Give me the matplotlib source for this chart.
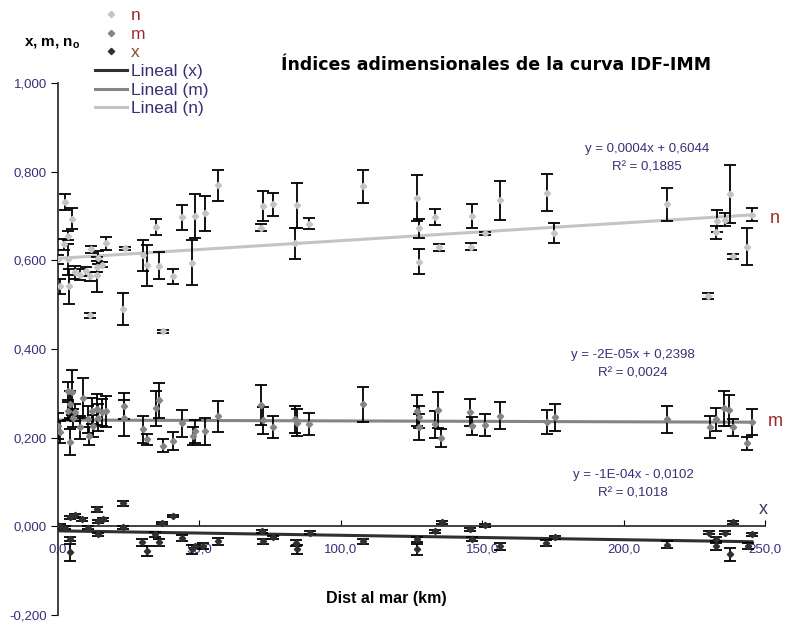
import matplotlib
matplotlib.use("Agg")
import matplotlib.pyplot as plt
from matplotlib.lines import Line2D
import numpy as np

plt.rcParams["font.family"] = ["Liberation Sans", "DejaVu Sans"]

# ---- data (km, value, half error bar) ----
n_km = [2.5, 5.0, 3.6, 2.1, 3.6, 0.0, 0.7, 3.9, 6.0, 7.8, 10.0, 11.3, 11.6, 13.7, 13.7,
        14.2, 17.0, 11.3, 15.5, 23.7, 23.0, 30.0, 31.5, 34.7, 35.8, 37.1, 40.8, 43.8,
        47.5, 48.4, 52.0, 56.5, 71.8, 72.5, 76.0, 84.5, 83.8, 88.8, 108.0, 127.0, 127.7,
        127.7, 133.3, 134.7, 146.4, 146.0, 151.0, 156.3, 172.9, 175.4, 215.3, 233.0,
        232.7, 230.0, 237.6, 235.9, 238.7, 243.6, 245.4]
n_val = [0.731, 0.694, 0.656, 0.636, 0.602, 0.602, 0.541, 0.541, 0.573, 0.568, 0.575, 0.564,
         0.625, 0.586, 0.568, 0.606, 0.638, 0.476, 0.590, 0.627, 0.491, 0.611, 0.589, 0.676,
         0.588, 0.440, 0.564, 0.697, 0.595, 0.700, 0.706, 0.769, 0.674, 0.722, 0.726, 0.724,
         0.638, 0.683, 0.767, 0.740, 0.672, 0.597, 0.697, 0.629, 0.699, 0.631, 0.661, 0.735,
         0.753, 0.661, 0.726, 0.688, 0.663, 0.519, 0.749, 0.692, 0.609, 0.631, 0.703]
n_err = [0.018, 0.024, 0.010, 0.012, 0.035, 0.010, 0.017, 0.040, 0.015, 0.012, 0.010, 0.010,
         0.008, 0.012, 0.040, 0.015, 0.015, 0.005, 0.006, 0.003, 0.036, 0.034, 0.046, 0.018,
         0.030, 0.003, 0.017, 0.028, 0.050, 0.050, 0.040, 0.035, 0.007, 0.034, 0.026, 0.050,
         0.036, 0.013, 0.037, 0.052, 0.022, 0.028, 0.018, 0.008, 0.027, 0.007, 0.004, 0.044,
         0.041, 0.023, 0.038, 0.025, 0.015, 0.007, 0.065, 0.015, 0.005, 0.041, 0.015]

m_km = [0.0, 0.7, 3.6, 4.2, 3.6, 5.0, 4.2, 5.3, 6.0, 7.8, 8.8, 10.6, 11.0, 12.0, 12.4, 13.7,
        14.2, 15.5, 17.0, 23.3, 23.3, 30.0, 31.5, 34.7, 35.8, 37.1, 40.8, 43.8, 47.6, 48.4,
        52.0, 56.5, 71.8, 72.5, 76.0, 83.8, 84.5, 88.8, 108.0, 127.0, 127.7, 127.7, 133.3,
        134.3, 135.4, 145.7, 146.4, 151.0, 156.3, 172.9, 175.7, 215.3, 230.5, 232.7, 235.5,
        237.3, 238.7, 243.6, 245.4]
m_val = [0.226, 0.212, 0.305, 0.275, 0.260, 0.302, 0.190, 0.245, 0.257, 0.223, 0.289, 0.241,
         0.203, 0.260, 0.226, 0.264, 0.245, 0.257, 0.260, 0.271, 0.244, 0.219, 0.196, 0.266,
         0.284, 0.182, 0.192, 0.232, 0.203, 0.214, 0.214, 0.248, 0.273, 0.239, 0.225, 0.241,
         0.234, 0.230, 0.275, 0.261, 0.246, 0.224, 0.230, 0.262, 0.199, 0.257, 0.226, 0.228,
         0.250, 0.235, 0.246, 0.241, 0.224, 0.241, 0.266, 0.262, 0.223, 0.187, 0.235]
m_err = [0.030, 0.025, 0.020, 0.030, 0.020, 0.050, 0.030, 0.020, 0.020, 0.025, 0.045, 0.030,
         0.020, 0.030, 0.025, 0.035, 0.030, 0.030, 0.035, 0.030, 0.040, 0.030, 0.012, 0.040,
         0.040, 0.015, 0.020, 0.030, 0.020, 0.025, 0.030, 0.035, 0.045, 0.030, 0.025, 0.030,
         0.030, 0.025, 0.040, 0.035, 0.025, 0.030, 0.030, 0.040, 0.020, 0.030, 0.020, 0.025,
         0.030, 0.027, 0.030, 0.030, 0.025, 0.025, 0.040, 0.035, 0.020, 0.015, 0.030]

x_km = [23.0, 13.8, 6.0, 4.2, 8.5, 15.9, 14.1, 40.7, 36.8, 0.7, 2.5, 10.6, 23.0, 14.1, 34.3,
        4.2, 43.9, 56.5, 29.7, 35.7, 31.5, 47.4, 48.4, 51.3, 4.2, 72.1, 72.5, 76.0, 84.2,
        84.5, 89.1, 108.0, 127.0, 127.0, 133.3, 135.7, 145.7, 146.4, 151.0, 156.3, 172.6,
        175.7, 215.3, 230.2, 232.7, 232.7, 235.9, 238.7, 237.6, 244.0, 245.4]
x_val = [0.052, 0.038, 0.025, 0.020, 0.016, 0.016, 0.011, 0.023, 0.007, 0.000, -0.003, -0.003,
         -0.002, -0.018, -0.018, -0.029, -0.027, -0.034, -0.036, -0.036, -0.056, -0.052,
         -0.045, -0.045, -0.059, -0.011, -0.034, -0.025, -0.038, -0.052, -0.014, -0.034,
         -0.029, -0.052, -0.011, 0.009, -0.007, -0.029, 0.002, -0.045, -0.038, -0.025,
         -0.041, -0.014, -0.029, -0.045, -0.014, 0.009, -0.063, -0.045, -0.018]
x_err = [0.006, 0.006, 0.003, 0.003, 0.003, 0.003, 0.003, 0.002, 0.002, 0.005, 0.004, 0.004,
         0.003, 0.004, 0.005, 0.005, 0.007, 0.007, 0.008, 0.008, 0.012, 0.010, 0.004, 0.007,
         0.020, 0.003, 0.006, 0.003, 0.007, 0.010, 0.003, 0.006, 0.006, 0.012, 0.003, 0.004,
         0.003, 0.004, 0.004, 0.008, 0.007, 0.003, 0.007, 0.003, 0.004, 0.008, 0.003, 0.003,
         0.015, 0.007, 0.004]

# trendlines y = a*x + b as printed on the chart
trend_coef = {"x": (-1e-4, -0.0102), "m": (-2e-5, 0.2398), "n": (0.0004, 0.6044)}
trend_text = {"n": ("y = 0,0004x + 0,6044", "R² = 0,1885"),
              "m": ("y = -2E-05x + 0,2398", "R² = 0,0024"),
              "x": ("y = -1E-04x - 0,0102", "R² = 0,1018")}

x_ticks = [0, 50, 100, 150, 200, 250]
x_ticklabels = ["0,0", "50,0", "100,0", "150,0", "200,0", "250,0"]
y_ticks = [-0.2, 0.0, 0.2, 0.4, 0.6, 0.8, 1.0]
y_ticklabels = ["-0,200", "0,000", "0,200", "0,400", "0,600", "0,800", "1,000"]

COLORS = {"n": "#c4c4c4", "m": "#858585", "x": "#303030"}
TXT = "#3a2e78"

fig = plt.figure(figsize=(7.94, 6.22), dpi=100)
ax = fig.add_axes([58 / 794, 7 / 622, 707 / 794, 532 / 622])

for key, xs, ys, es in [("n", n_km, n_val, n_err), ("m", m_km, m_val, m_err),
                        ("x", x_km, x_val, x_err)]:
    ax.errorbar(xs, ys, yerr=es, fmt="D", ms=3.2, color=COLORS[key], ecolor="black",
                elinewidth=1.3, capsize=4, capthick=1.3, zorder=3)

xl = np.array([0.0, 245.4])
for key in ["x", "m", "n"]:
    a, b = trend_coef[key]
    ax.plot(xl, a * xl + b, color=COLORS[key], lw=2.2, zorder=2)

ax.set_xlim(0, 250)
ax.set_ylim(-0.2, 1.0)
ax.spines["top"].set_visible(False)
ax.spines["right"].set_visible(False)
ax.spines["bottom"].set_position(("data", 0.0))
for s in ["left", "bottom"]:
    ax.spines[s].set_color("#333333")
    ax.spines[s].set_linewidth(1.3)
ax.set_xticks(x_ticks)
ax.set_xticklabels(x_ticklabels)
ax.set_yticks(y_ticks)
ax.set_yticklabels(y_ticklabels)
ax.tick_params(axis="x", direction="in", length=4, pad=12, labelsize=9.5, labelcolor=TXT)
ax.tick_params(axis="y", direction="out", length=5, pad=3, labelsize=9.5, labelcolor=TXT)

# equations near the trendlines
eq_pos = {"n": (647, 149), "m": (633, 355), "x": (633, 475)}
for key, (px, py) in eq_pos.items():
    fig.text(px / 794, 1 - py / 622, trend_text[key][0], ha="center", va="center",
             fontsize=9.5, color=TXT)
    fig.text(px / 794, 1 - (py + 19) / 622, trend_text[key][1], ha="center", va="center",
             fontsize=9.5, color=TXT)

# series labels at the right end
fig.text(775 / 794, 1 - 218 / 622, "n", fontsize=13, color="#9a2a2a", ha="center", va="center")
fig.text(775 / 794, 1 - 421 / 622, "m", fontsize=13, color="#9a2a2a", ha="center", va="center")
fig.text(763 / 794, 1 - 510 / 622, "x", fontsize=13, color="#3a3a5a", ha="center", va="center")

fig.text(496 / 794, 1 - 65 / 622, "Índices adimensionales de la curva IDF-IMM",
         ha="center", va="center", fontsize=12.5, fontweight="bold",
         family=["DejaVu Sans"])
fig.text(52 / 794, 1 - 44 / 622, r"x, m, n$_\mathregular{o}$", ha="center", va="center",
         fontsize=11, fontweight="bold")
fig.text(386 / 794, 1 - 598 / 622, "Dist al mar (km)", ha="center", va="center",
         fontsize=11.5, fontweight="bold")

handles = [Line2D([], [], ls="none", marker="D", ms=3.2, color=COLORS["n"]),
           Line2D([], [], ls="none", marker="D", ms=3.2, color=COLORS["m"]),
           Line2D([], [], ls="none", marker="D", ms=3.2, color=COLORS["x"]),
           Line2D([], [], color=COLORS["x"], lw=2.2),
           Line2D([], [], color=COLORS["m"], lw=2.2),
           Line2D([], [], color=COLORS["n"], lw=2.2)]
labels = ["n", "m", "x", "Lineal (x)", "Lineal (m)", "Lineal (n)"]
leg = fig.legend(handles, labels, loc="upper left", bbox_to_anchor=(95 / 794, 1 - 8 / 622),
                 frameon=False, fontsize=12.5, handlelength=1.85, handletextpad=0.2,
                 labelspacing=0.2, borderpad=0, borderaxespad=0)
for t, c in zip(leg.get_texts(), ["#9a2a2a", "#9a2a2a", "#8a4a2a", TXT, TXT, TXT]):
    t.set_color(c)

fig.savefig("out.png", dpi=100)
